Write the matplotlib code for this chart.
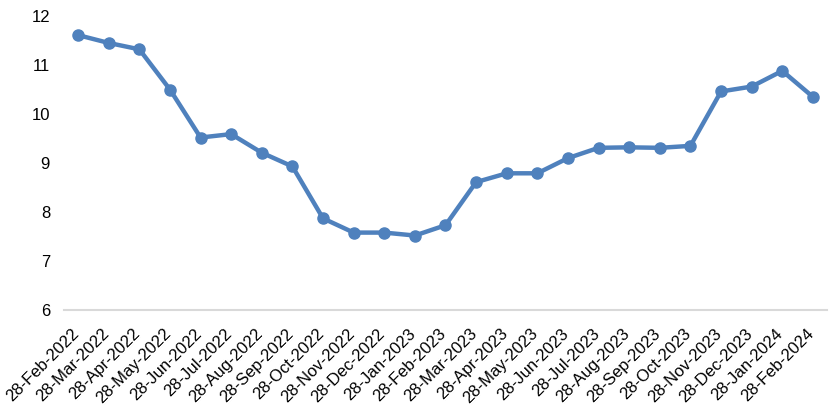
import matplotlib
matplotlib.use('Agg')
import matplotlib.pyplot as plt
import matplotlib.transforms as mtransforms

plt.rcParams['font.family'] = ['Liberation Sans', 'DejaVu Sans']

labels = ['28-Feb-2022', '28-Mar-2022', '28-Apr-2022', '28-May-2022', '28-Jun-2022',
          '28-Jul-2022', '28-Aug-2022', '28-Sep-2022', '28-Oct-2022', '28-Nov-2022',
          '28-Dec-2022', '28-Jan-2023', '28-Feb-2023', '28-Mar-2023', '28-Apr-2023',
          '28-May-2023', '28-Jun-2023', '28-Jul-2023', '28-Aug-2023', '28-Sep-2023',
          '28-Oct-2023', '28-Nov-2023', '28-Dec-2023', '28-Jan-2024', '28-Feb-2024']
values = [11.61, 11.45, 11.32, 10.50, 9.52, 9.59, 9.21, 8.93, 7.87, 7.58,
          7.58, 7.52, 7.73, 8.61, 8.79, 8.79, 9.10, 9.31, 9.32, 9.31,
          9.35, 10.46, 10.56, 10.88, 10.35]

fig = plt.figure(figsize=(8.4, 4.19), dpi=100)
ax = fig.add_axes([0.0762, 0.2601, 0.9083, 0.7017])

x = list(range(len(values)))
ax.plot(x, values, color='#4F81BD', linewidth=3.2, marker='o', markersize=8,
        solid_joinstyle='round')

ax.set_xlim(-0.46, len(values) - 0.54)
ax.set_ylim(6, 12)
ax.set_yticks([6, 7, 8, 9, 10, 11, 12])
ax.set_xticks(x)
ax.set_xticklabels(labels, rotation=45, ha='right', va='top',
                   rotation_mode='anchor')

for s in ['top', 'right', 'left']:
    ax.spines[s].set_visible(False)
ax.spines['bottom'].set_color('#D9D9D9')
ax.spines['bottom'].set_linewidth(1.5)
ax.tick_params(axis='both', length=0, labelsize=12, colors='black')
ax.tick_params(axis='y', pad=10)
ax.tick_params(axis='x', pad=11.5)

# nudge rotated date labels a little to the left, like Excel places them
offset = mtransforms.ScaledTranslation(-7 / 100, 0, fig.dpi_scale_trans)
for lab in ax.get_xticklabels():
    lab.set_transform(lab.get_transform() + offset)

fig.savefig('out.png', dpi=100)
